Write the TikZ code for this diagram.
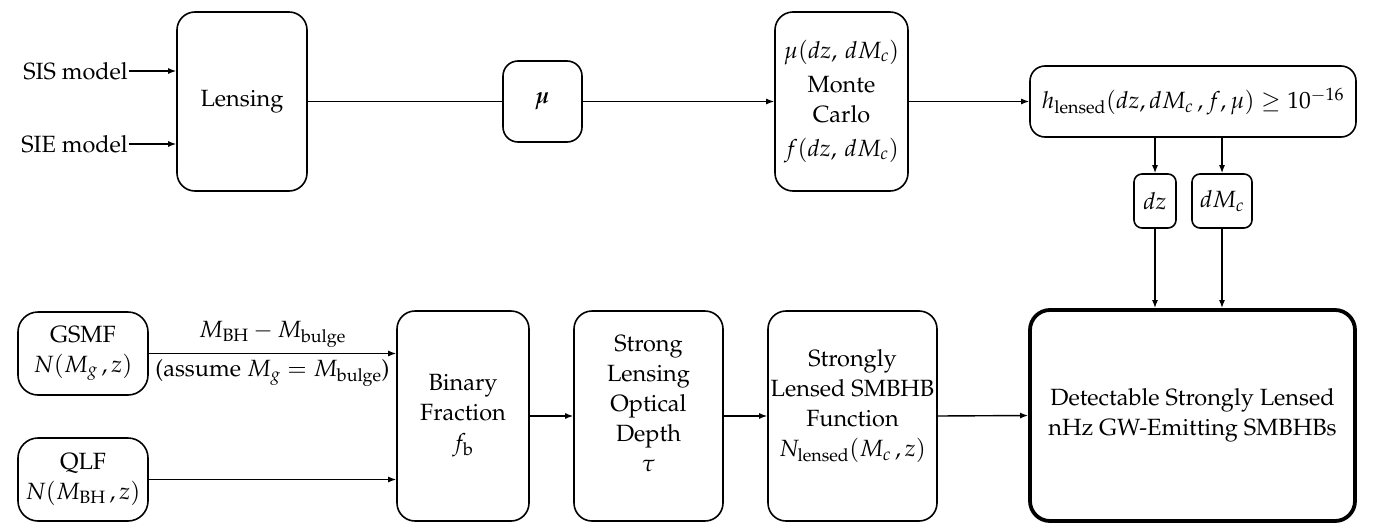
\documentclass[tikz,border=0pt]{standalone}
\usepackage[T1]{fontenc}
\usepackage{amsmath}
\usepackage{mathpazo}
\usepackage{bm}
\usetikzlibrary{arrows.meta}
\begin{document}
\begin{tikzpicture}[x=1pt,y=-1pt,
  font=\fontsize{23.5}{30}\selectfont,
  box/.style={draw, rounded corners=18pt, line width=1.6pt, align=center, inner sep=0pt},
  smallbox/.style={box, rounded corners=8pt},
  arr/.style={-{Latex[length=8pt,width=6pt]}, line width=1.4pt},
  ln/.style={line width=1.4pt},
  lbl/.style={inner sep=1pt}]
\useasboundingbox (0,0) rectangle (1387,525);
% top row
\node[box, minimum width=130pt, minimum height=179pt] (lens) at (242,101.5) {Lensing};
\node[box, rounded corners=15pt, minimum width=79pt, minimum height=81pt] (mu) at (542.5,101.5) {$\bm{\mu}$};
\node[box, minimum width=133pt, minimum height=179pt] (mc) at (841.5,101.5)
  {$\mu(dz,\,dM_c)$\\[4pt]Monte\\Carlo\\[4pt]$f(dz,\,dM_c)$};
\node[box, rounded corners=15pt, minimum width=326pt, minimum height=71pt] (h) at (1193,101.5)
  {$h_{\mathrm{lensed}}(dz, dM_c\,, f, \mu) \geq 10^{-16}$};
\node[smallbox, minimum width=42pt, minimum height=54pt] (dz) at (1155,201) {$dz$};
\node[smallbox, minimum width=60pt, minimum height=54pt] (dmc) at (1222,201) {$dM_c$};
\node[lbl, anchor=east] (sis) at (129,71) {SIS model};
\node[lbl, anchor=east] (sie) at (129,144) {SIE model};
% bottom row
\node[box, rounded corners=20pt, minimum width=130pt, minimum height=83pt] (gsmf) at (83,353.5) {GSMF\\$N(M_g\,, z)$};
\node[box, rounded corners=20pt, minimum width=130pt, minimum height=83pt] (qlf) at (83,479.5) {QLF\\$N(M_{\mathrm{BH}}\,, z)$};
\node[box, minimum width=132pt, minimum height=210pt] (bin) at (463,416) {Binary\\Fraction\\$f_{\mathrm{b}}$};
\node[box, minimum width=149pt, minimum height=210pt] (sld) at (648.5,416) {Strong\\Lensing\\Optical\\Depth\\$\tau$\\[-4pt]\mbox{}};
\node[box, minimum width=169pt, minimum height=210pt] (slf) at (852.5,416) {Strongly\\Lensed SMBHB\\Function\\$N_{\mathrm{lensed}}(M_c\,, z)$\\[-4pt]\mbox{}};
\node[box, rounded corners=20pt, line width=3.8pt, minimum width=325pt, minimum height=211pt] (fin) at (1192.5,415.5)
  {Detectable Strongly Lensed\\nHz GW-Emitting SMBHBs};
% connectors
\draw[arr] (sis.east) -- (sis.east -| lens.west);
\draw[arr] (sie.east) -- (sie.east -| lens.west);
\draw[ln] (lens.east) -- (mu.west);
\draw[arr] (mu.east) -- (mc.west);
\draw[arr] (mc.east) -- (h.west);
\draw[arr] (h.south -| dz.north) -- (dz.north);
\draw[arr] (h.south -| dmc.north) -- (dmc.north);
\draw[arr] (dz.south) -- (dz.south |- fin.north);
\draw[arr] (dmc.south) -- (dmc.south |- fin.north);
\draw[arr] (gsmf.east) -- (gsmf.east -| bin.west)
  node[midway, above=2pt] {$M_{\mathrm{BH}} - M_{\mathrm{bulge}}$}
  node[midway, below=2pt] {(assume $M_g = M_{\mathrm{bulge}}$)};
\draw[arr] (qlf.east) -- (qlf.east -| bin.west);
\draw[arr] (bin.east) -- (sld.west);
\draw[arr] (sld.east) -- (slf.west);
\draw[arr] (slf.east) -- (fin.west);
\end{tikzpicture}
\end{document}
